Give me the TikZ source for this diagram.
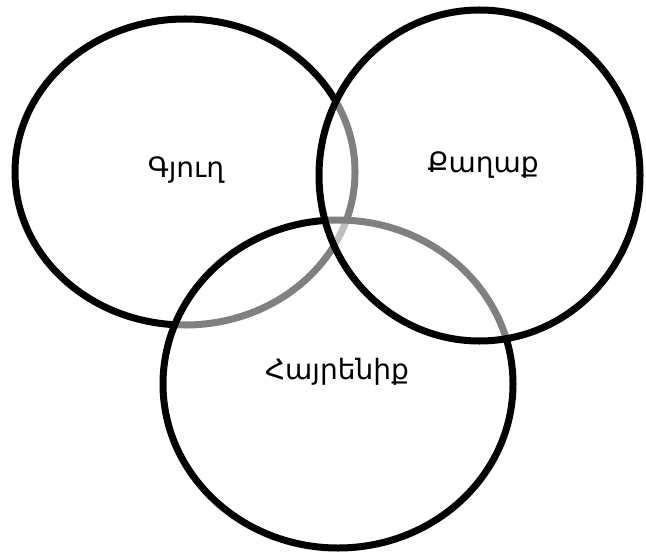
\documentclass[tikz,border=0pt]{standalone}
\usepackage{fontspec}
\setmainfont{DejaVu Sans}
\tikzset{
  venn/.style={draw=black, line width=7bp, fill=white, fill opacity=0.5},
  lbl/.style={font=\fontsize{28bp}{32bp}\selectfont, inner sep=0pt, anchor=base}
}
\begin{document}
\begin{tikzpicture}[x=1bp, y=-1bp]
  \useasboundingbox (0,0) rectangle (646,553);
  \path[venn] (185,172) ellipse [x radius=170bp, y radius=153bp];
  \path[venn] (338,384) ellipse [x radius=175bp, y radius=164bp];
  \path[venn] (479.5,175.5) ellipse [x radius=160.5bp, y radius=165.5bp];
  \node[lbl] (gyugh) at (186,178) {Գյուղ};
  \node[lbl] (kaghak) at (483,173) {Քաղաք};
  \node[lbl] (hayrenik) at (337,379) {Հայրենիք};
\end{tikzpicture}
\end{document}
